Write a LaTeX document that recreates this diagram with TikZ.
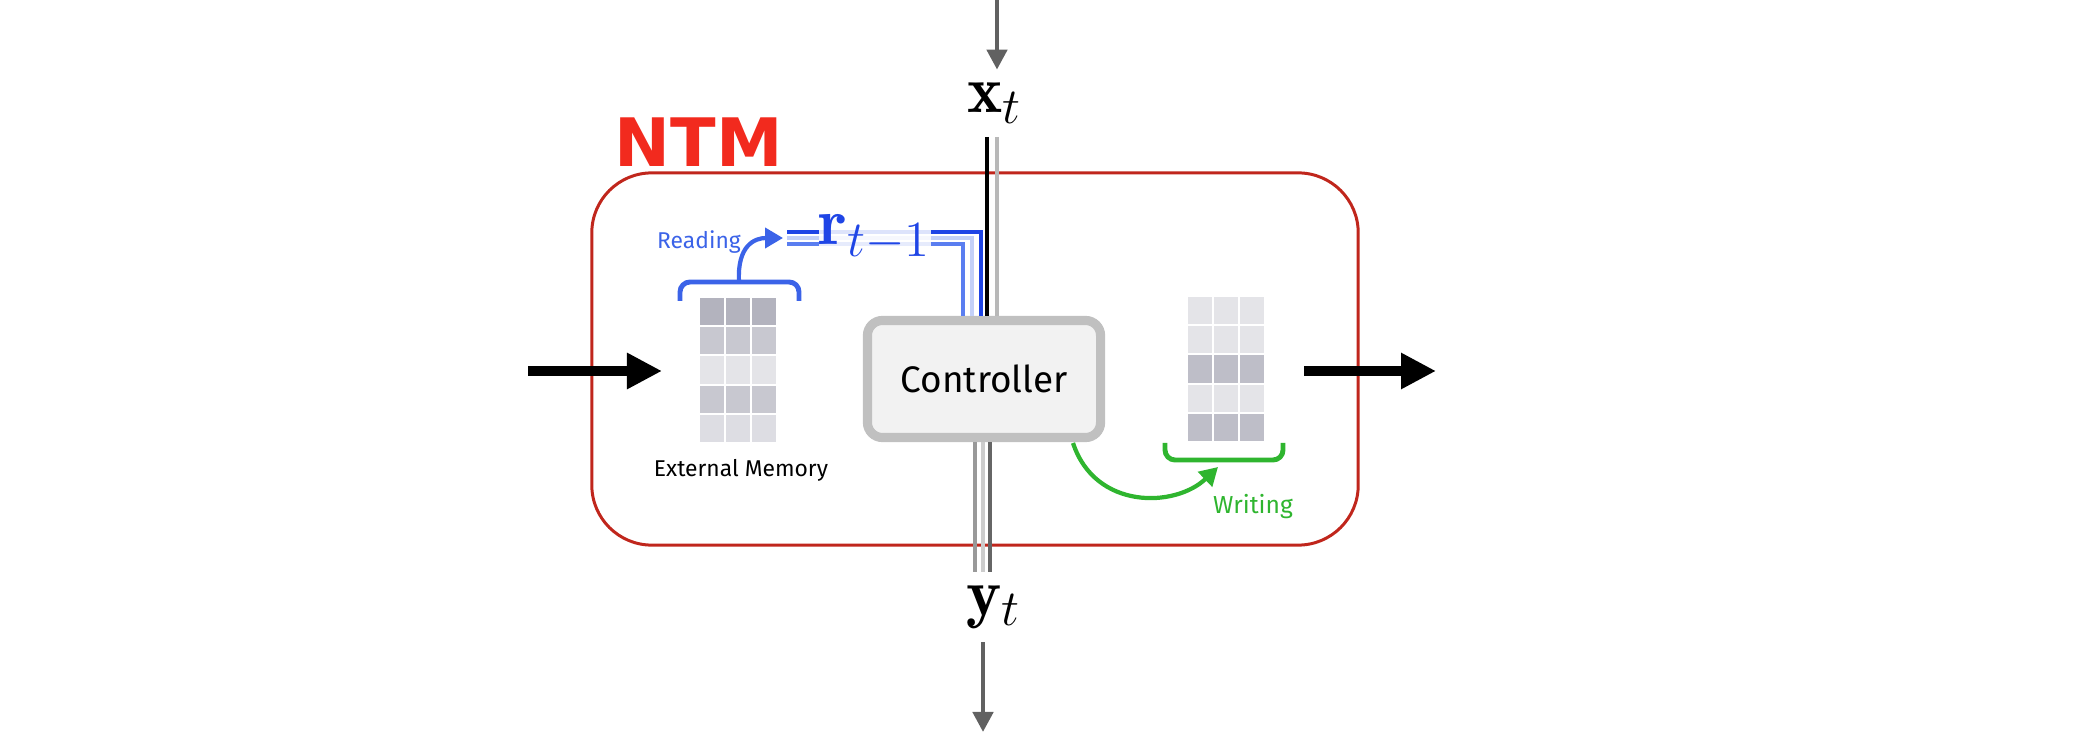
\documentclass[tikz,border=0pt]{standalone}
\usepackage{amsmath,amssymb}
\usepackage{fontspec}
\usepackage{tikz}
\usetikzlibrary{arrows.meta}
\newfontfamily\handfont{Fira Sans}
\newfontfamily\titlefont{DejaVu Sans}
\definecolor{ntmred}{HTML}{C0261C}
\definecolor{ntmtitle}{HTML}{F22A1E}
\definecolor{rdark}{HTML}{1F45E6}
\definecolor{rmid}{HTML}{5A7EF0}
\definecolor{rlight}{HTML}{C3D0F8}
\definecolor{readblue}{HTML}{3B63E8}
\definecolor{writegreen}{HTML}{2FB52F}
\definecolor{ctrlgray}{HTML}{C0C0C0}
\definecolor{ctrlfill}{HTML}{F2F2F2}
\definecolor{cellA}{HTML}{B3B3BE}
\definecolor{cellB}{HTML}{C8C8D0}
\definecolor{cellC}{HTML}{E4E4E8}
\definecolor{cellD}{HTML}{DDDDE3}
\definecolor{cellE}{HTML}{BEBEC8}

\begin{document}
\begin{tikzpicture}[x=0.01cm,y=-0.01cm,
  bigarrow/.style={line width=2.6pt,-{Triangle[length=0.35cm,width=0.34cm]}},
  grayarrow/.style={draw=black!62,line width=1.3pt,-{Triangle[length=0.2cm,width=0.2cm]}},
  hand/.style={inner sep=0,font=\handfont\fontsize{6.5}{7}\selectfont},
  mathlbl/.style={inner sep=3.7pt,font=\fontsize{19}{19}\selectfont}]
\useasboundingbox (0,0) rectangle (2076,746);

\node[draw=ntmred,line width=0.85pt,rounded corners=0.6cm,minimum width=7.66cm,minimum height=3.72cm,inner sep=0] (ntm) at (975,359) {};
\node[anchor=base west,inner sep=0,text=ntmtitle,font=\titlefont\bfseries\fontsize{19}{19}\selectfont] (ntmlabel) at (614,167) {NTM};

\node[draw=ctrlgray,line width=2.6pt,fill=ctrlfill,rounded corners=0.15cm,minimum width=2.33cm,minimum height=1.17cm,inner sep=0,font=\handfont\fontsize{10.5}{12}\selectfont] (ctrl) at (984,379) {Controller};

\node[mathlbl,anchor=base] (xt) at (995,113) {$\mathbf{x}_t$};
\node[mathlbl,anchor=base] (yt) at (994,615) {$\mathbf{y}_t$};

% input and output
\coordinate (xin) at (997,0);
\coordinate (yout) at (983,732);
\draw[grayarrow] (xin) -- (997,0 |- xt.north);
\draw[grayarrow] (983,0 |- yt.south) -- (yout);
\draw[black,line width=1.1pt] (987,0 |- xt.south) -- (987,0 |- ctrl.north);
\draw[black!28,line width=1.1pt] (997,0 |- xt.south) -- (997,0 |- ctrl.north);
\foreach \cx/\shade in {975/black!40,983/black!20,990/black!60}
  \draw[\shade,line width=1.1pt] (\cx,0 |- ctrl.south) -- (\cx,0 |- yt.north);

\coordinate (inL) at (528,371);
\coordinate (inR) at (662,371);
\coordinate (outL) at (1304,371);
\coordinate (outR) at (1436,371);
\draw[bigarrow] (inL) -- (inR);
\draw[bigarrow] (outL) -- (outR);

% memories
\foreach \row/\shade in {0/cellA,1/cellB,2/cellC,3/cellB,4/cellD}
  \foreach \col in {0,1,2}
    \fill[\shade] (700+\col*26,298+\row*29.2) rectangle ++(24,27.2);
\foreach \row/\shade in {0/cellC,1/cellC,2/cellE,3/cellC,4/cellE}
  \foreach \col in {0,1,2}
    \fill[\shade] (1188+\col*26,297+\row*29.2) rectangle ++(24,27.2);
\node[hand] (memlbl) at (741,470) {External Memory};

% reading
\coordinate (rtop) at (739,282);
\coordinate (rtip) at (783,238);
\draw[readblue,line width=1.4pt,rounded corners=0.1cm] (680,301) -- (680,282) -- (799,282) -- (799,301);
\draw[readblue,line width=1.2pt,-{Triangle[length=0.18cm,width=0.2cm]}] (rtop) .. controls (737,245) and (755,238) .. (rtip);
\node[hand,text=readblue] (readlbl) at (699,242) {Reading};
\foreach \dy/\cx/\shade in {-6/981/rdark,0/972/rlight,6/963/rmid}
  \draw[\shade,line width=1.1pt] (787,238+\dy) -| (\cx,0 |- ctrl.north);
\node[anchor=base west,inner sep=0,fill=white,fill opacity=0.85,text opacity=1,text=rdark,font=\fontsize{19}{19}\selectfont] (rlbl) at (818,245) {$\mathbf{r}_{t-1}$};

% writing
\coordinate (wout) at (1073,443);
\coordinate (wtip) at (1218,467);
\draw[writegreen,line width=1.4pt,rounded corners=0.1cm] (1165,443) -- (1165,460) -- (1283,460) -- (1283,443);
\draw[writegreen,line width=1.2pt,-{Triangle[length=0.18cm,width=0.2cm]}] (wout) .. controls (1095,510) and (1175,508) .. (wtip);
\node[hand,text=writegreen,font=\handfont\fontsize{7}{8}\selectfont] (wlbl) at (1253,507) {Writing};
\end{tikzpicture}
\end{document}
